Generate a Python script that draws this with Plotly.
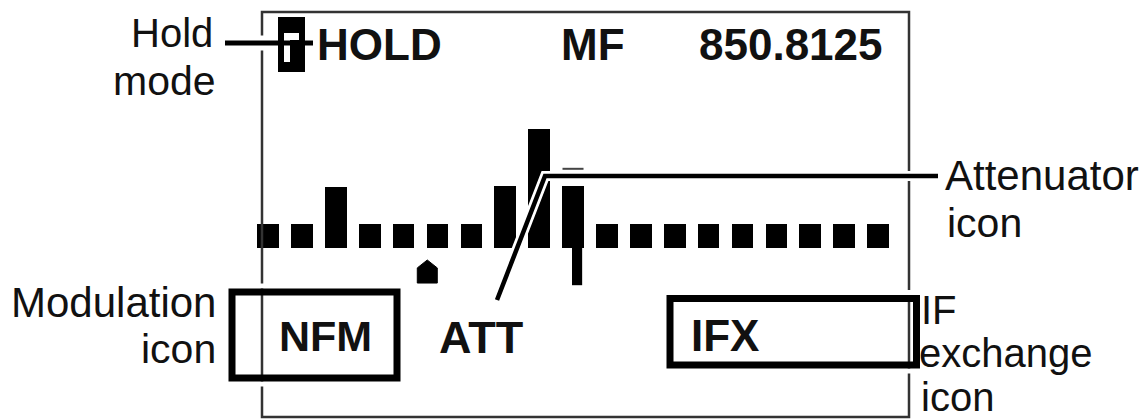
import plotly.graph_objects as go

# the page body has an 8 px margin, so the figure is drawn 8 px in from the corner
OFF = 8
W, H = 1147 - OFF, 419 - OFF

# ---------------- data ----------------
channels = list(range(1, 20))
levels = [1, 1, 2.55, 1, 1, 1, 1, 2.6, 4.95, 2.6, 1, 1, 1, 1, 1, 1, 1, 1, 1]
peak_hold_channel = 10
peak_hold_level = 3.3
stem_channel = 10
stem_level = -1.55
cursor_channel = 5.7

top_texts = ["HOLD", "MF", "850.8125"]
box_texts = ["NFM", "ATT", "IFX"]
hold_label = ["Hold", "mode"]
mod_label = ["Modulation", "icon"]
att_label = ["Attenuator", "icon"]
ifx_label = ["IF", "exchange", "icon"]

# ---------------- helpers (window pixel -> paper) ----------------
def px(x):
    return (x - OFF) / W


def py(y):
    return 1 - (y - OFF) / H


FONT = "Liberation Sans, Arial, Helvetica, sans-serif"
INK = "#111111"

fig = go.Figure()
fig.add_trace(go.Bar(x=channels, y=levels, width=0.64,
                     marker=dict(color="black", line=dict(width=0)),
                     hoverinfo="skip", showlegend=False))

# axes: channel pitch ~33.89 px, 1 level = 24 px, level 0 at 248 px from top
pitch = 33.89
x_lo = 1 - (268 - OFF) / pitch
x_hi = x_lo + W / pitch
unit = 24.0
y_hi = (248 - OFF) / unit
y_lo = -(H - (248 - OFF)) / unit

shapes = []


def line(x0, y0, x1, y1, color, width):
    shapes.append(dict(type="line", xref="paper", yref="paper",
                       x0=px(x0), y0=py(y0), x1=px(x1), y1=py(y1),
                       line=dict(color=color, width=width), layer="above"))


def rect(x0, y0, x1, y1, color, width, fill=None):
    d = dict(type="rect", xref="paper", yref="paper",
             x0=px(x0), y0=py(y0), x1=px(x1), y1=py(y1),
             line=dict(color=color, width=width), layer="above")
    if fill:
        d["fillcolor"] = fill
        d["line"] = dict(width=0)
    shapes.append(d)


def path(pts, color, width):
    s = "M " + " L ".join(f"{px(x)},{py(y)}" for x, y in pts)
    shapes.append(dict(type="path", xref="paper", yref="paper", path=s,
                       line=dict(color=color, width=width), layer="above"))


# display frame
rect(262, 12, 909, 417, "#333333", 2.5)

# white halos around boxes (break frame line)
rect(232 - 6, 292 - 6, 397 + 6, 378 + 6, "white", 5)
rect(670 - 6, 298.5 - 6, 916.5 + 6, 365 + 6, "white", 5)
# boxes
rect(232, 292, 397, 378, "black", 7)
rect(670, 298.5, 916.5, 365, "black", 7)

# hold icon
rect(278, 17, 305, 72, None, 0, fill="black")
rect(284, 33, 299, 40, None, 0, fill="white")
rect(284, 40, 290, 62, None, 0, fill="white")

# hold leader
line(254, 43, 271, 43, "white", 15)
line(225, 43, 313, 43, "black", 5)

# attenuator leader with white halo
att_path = [(497, 300), (545, 176), (938, 176)]
path(att_path, "white", 10)
path(att_path, "black", 4.5)

# peak-hold tick above channel 10
shapes.append(dict(type="line", xref="x", yref="y",
                   x0=peak_hold_channel - 0.31, x1=peak_hold_channel + 0.31,
                   y0=peak_hold_level, y1=peak_hold_level,
                   line=dict(color="#444444", width=2), layer="above"))
# stem below channel 10
shapes.append(dict(type="rect", xref="x", yref="y",
                   x0=stem_channel - 0.03, x1=stem_channel + 0.27,
                   y0=0, y1=stem_level, fillcolor="black",
                   line=dict(width=0), layer="above"))
# cursor pentagon
c = cursor_channel
hw = 0.295
pent = (f"M {c - hw},{-1.46} L {c - hw},{-0.83} L {c},{-0.5} "
        f"L {c + hw},{-0.83} L {c + hw},{-1.46} Z")
shapes.append(dict(type="path", xref="x", yref="y", path=pent,
                   fillcolor="black", line=dict(color="black", width=1),
                   layer="above"))

annotations = []


def text(s, x, y, size, anchor="left", bold=False):
    annotations.append(dict(
        text=f"<b>{s}</b>" if bold else s, xref="paper", yref="paper",
        x=px(x), y=py(y), xanchor=anchor, yanchor="middle", showarrow=False,
        font=dict(family=FONT, size=size, color=INK), borderpad=0))


# display texts
text(top_texts[0], 316, 44.5, 44, bold=True)
text(top_texts[1], 560, 44.5, 44, bold=True)
text(top_texts[2], 884, 44.5, 44, anchor="right", bold=True)
text(box_texts[0], 278, 336, 43, bold=True)
text(box_texts[1], 438, 337, 45, bold=True)
text(box_texts[2], 690, 335, 44, bold=True)

# callout labels
LS = 41
text(hold_label[0], 214, 33, LS - 1, anchor="right")
text(hold_label[1], 217, 80.7, LS, anchor="right")
text(mod_label[0], 217, 302.5, LS + 1, anchor="right")
text(mod_label[1], 217, 348.7, LS, anchor="right")
text(att_label[0], 944, 176, LS + 1)
text(att_label[1], 946, 222.7, LS)
text(ifx_label[0], 920, 310, 40)
text(ifx_label[1], 918, 353, 40)
text(ifx_label[2], 920, 397, 40)

fig.update_layout(
    width=W, height=H, margin=dict(l=0, r=0, t=0, b=0),
    paper_bgcolor="white", plot_bgcolor="white",
    xaxis=dict(range=[x_lo, x_hi], visible=False, fixedrange=True),
    yaxis=dict(range=[y_lo, y_hi], visible=False, fixedrange=True),
    shapes=shapes, annotations=annotations, showlegend=False,
    bargap=0,
)

fig.write_html("out.html")
